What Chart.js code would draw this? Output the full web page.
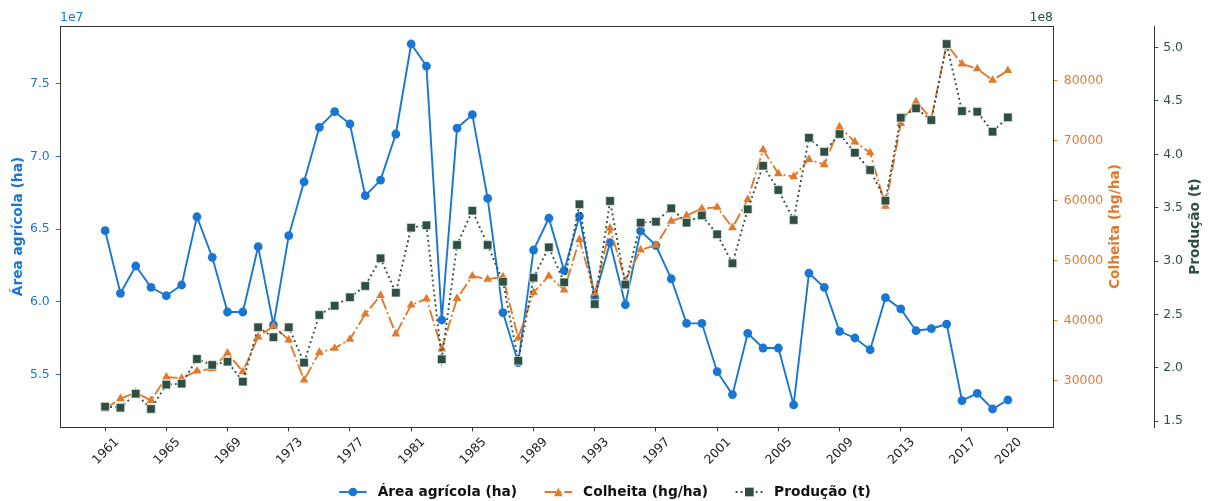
<!DOCTYPE html>
<html lang="pt">
<head>
<meta charset="utf-8">
<title>Área agrícola, colheita e produção</title>
<script src="https://cdn.jsdelivr.net/npm/chart.js@4.4.1/dist/chart.umd.min.js"></script>
<style>
  html, body { margin: 0; padding: 0; background: #fff; }
  #chart { display: block; }
</style>
</head>
<body>
<canvas id="chart" width="1212" height="501"></canvas>
<script>
// Series, one value per year 1961-2020
const years = [
  1961, 1962, 1963, 1964, 1965, 1966, 1967, 1968, 1969, 1970,
  1971, 1972, 1973, 1974, 1975, 1976, 1977, 1978, 1979, 1980,
  1981, 1982, 1983, 1984, 1985, 1986, 1987, 1988, 1989, 1990,
  1991, 1992, 1993, 1994, 1995, 1996, 1997, 1998, 1999, 2000,
  2001, 2002, 2003, 2004, 2005, 2006, 2007, 2008, 2009, 2010,
  2011, 2012, 2013, 2014, 2015, 2016, 2017, 2018, 2019, 2020
];

const areaHa = [
  6.489e7, 6.058e7, 6.246e7, 6.099e7, 6.041e7, 6.115e7, 6.585e7, 6.306e7, 5.929e7, 5.929e7,
  6.379e7, 5.840e7, 6.455e7, 6.826e7, 7.201e7, 7.309e7, 7.224e7, 6.730e7, 6.838e7, 7.155e7,
  7.775e7, 7.623e7, 5.874e7, 7.196e7, 7.288e7, 6.712e7, 5.925e7, 5.580e7, 6.356e7, 6.575e7,
  6.214e7, 6.590e7, 6.034e7, 6.406e7, 5.979e7, 6.488e7, 6.387e7, 6.158e7, 5.851e7, 5.851e7,
  5.518e7, 5.360e7, 5.782e7, 5.681e7, 5.681e7, 5.289e7, 6.196e7, 6.099e7, 5.796e7, 5.750e7,
  5.669e7, 6.028e7, 5.950e7, 5.800e7, 5.814e7, 5.846e7, 5.318e7, 5.369e7, 5.261e7, 5.323e7
];

const colheitaHgHa = [
  25300, 27000, 28000, 26700, 30600, 30400, 31600, 32000, 34600, 31500,
  37300, 39100, 36800, 30100, 34700, 35400, 36900, 41100, 44200, 37800,
  42600, 43650, 35300, 43700, 47450, 46900, 47300, 37100, 44700, 47450,
  45100, 53500, 44500, 55400, 46700, 51800, 52600, 56600, 57500, 58700,
  58900, 55500, 60200, 68500, 64500, 64000, 66900, 66000, 72300, 69800,
  68000, 59100, 72900, 76500, 73700, 86100, 82800, 82000, 80100, 81700
];

const producaoT = [
  1.637e8, 1.627e8, 1.758e8, 1.615e8, 1.843e8, 1.852e8, 2.083e8, 2.027e8, 2.058e8, 1.871e8,
  2.380e8, 2.287e8, 2.380e8, 2.049e8, 2.495e8, 2.582e8, 2.661e8, 2.767e8, 3.026e8, 2.704e8,
  3.313e8, 3.335e8, 2.080e8, 3.151e8, 3.472e8, 3.151e8, 2.807e8, 2.067e8, 2.845e8, 3.129e8,
  2.801e8, 3.532e8, 2.597e8, 3.563e8, 2.780e8, 3.360e8, 3.369e8, 3.494e8, 3.360e8, 3.428e8,
  3.251e8, 2.979e8, 3.485e8, 3.893e8, 3.666e8, 3.385e8, 4.155e8, 4.024e8, 4.190e8, 4.015e8,
  3.853e8, 3.566e8, 4.343e8, 4.431e8, 4.321e8, 5.033e8, 4.405e8, 4.399e8, 4.212e8, 4.346e8
];

// Tick positions
const yearTicks = [1961, 1965, 1969, 1973, 1977, 1981, 1985, 1989, 1993, 1997, 2001, 2005, 2009, 2013, 2017, 2020];
const areaTicks = [5.5e7, 6.0e7, 6.5e7, 7.0e7, 7.5e7];
const colheitaTicks = [30000, 40000, 50000, 60000, 70000, 80000];
const producaoTicks = [1.5e8, 2.0e8, 2.5e8, 3.0e8, 3.5e8, 4.0e8, 4.5e8, 5.0e8];

const BLUE = '#1976D2';
const ORANGE = '#E07B2E';
const GREEN = '#2F4F43';
const SPINE = '#333333';
const FONT = 'DejaVu Sans';
const TICK_FONT = { family: FONT, size: 12.4 };
const TICK_LEN = 4.3;

function toPoints(values) {
  return years.map((yr, i) => ({ x: yr, y: values[i] }));
}

function fixedTicks(list) {
  return function(scale) {
    scale.ticks = list.map(v => ({ value: v }));
  };
}

function yAxis(position, color, ticks, min, max, width, pad, showBorder) {
  return {
    type: 'linear',
    position: position,
    min: min,
    max: max,
    afterBuildTicks: fixedTicks(ticks),
    afterFit: function(scale) { scale.width = width; },
    ticks: { color: color, font: TICK_FONT, padding: pad },
    grid: { drawOnChartArea: false, tickLength: TICK_LEN, tickColor: color, tickWidth: 1 },
    border: { display: showBorder, color: SPINE, width: 1 }
  };
}

// Frame, offset labels, axis titles and the legend below the plot
const decorations = {
  id: 'decorations',
  afterDraw(chart) {
    const { ctx, chartArea: a } = chart;
    ctx.save();

    ctx.strokeStyle = SPINE;
    ctx.lineWidth = 1;
    ctx.setLineDash([]);
    ctx.strokeRect(Math.round(a.left) + 0.5, Math.round(a.top) + 0.5,
      Math.round(a.right - a.left), Math.round(a.bottom - a.top));

    ctx.font = '12.4px "' + FONT + '"';
    ctx.textBaseline = 'middle';
    ctx.fillStyle = BLUE;
    ctx.textAlign = 'left';
    ctx.fillText('1e7', a.left, 17.5);
    ctx.fillStyle = GREEN;
    ctx.textAlign = 'right';
    ctx.fillText('1e8', a.right, 17.5);

    const midY = (a.top + a.bottom) / 2;
    const titles = [
      { text: 'Área agrícola (ha)', x: 18, color: BLUE },
      { text: 'Colheita (hg/ha)', x: 1115, color: ORANGE },
      { text: 'Produção (t)', x: 1195, color: GREEN }
    ];
    ctx.font = 'bold 13.75px "' + FONT + '"';
    ctx.textAlign = 'center';
    titles.forEach(t => {
      ctx.save();
      ctx.translate(t.x, midY);
      ctx.rotate(-Math.PI / 2);
      ctx.fillStyle = t.color;
      ctx.fillText(t.text, 0, 0);
      ctx.restore();
    });

    // legend: line handle with marker, then label
    const handleLen = 27.5, textGap = 11, colGap = 27.5, legendY = 492;
    ctx.font = 'bold 13.75px "' + FONT + '"';
    const items = chart.data.datasets;
    let total = 0;
    items.forEach((ds, i) => {
      total += handleLen + textGap + ctx.measureText(ds.label).width;
      if (i < items.length - 1) total += colGap;
    });
    let x = 605 - total / 2;
    items.forEach(ds => {
      ctx.strokeStyle = ds.borderColor;
      ctx.lineWidth = ds.borderWidth;
      ctx.setLineDash(ds.borderDash || []);
      ctx.beginPath();
      ctx.moveTo(x, legendY);
      ctx.lineTo(x + handleLen, legendY);
      ctx.stroke();
      ctx.setLineDash([]);
      drawMarker(ctx, ds.pointStyle, x + handleLen / 2, legendY, ds.markerSize, ds.pointBackgroundColor);
      x += handleLen + textGap;
      ctx.fillStyle = '#111';
      ctx.textAlign = 'left';
      ctx.fillText(ds.label, x, legendY);
      x += ctx.measureText(ds.label).width + colGap;
    });

    ctx.restore();
  }
};

function drawMarker(ctx, style, x, y, size, fill) {
  const h = size / 2;
  ctx.fillStyle = fill;
  ctx.beginPath();
  if (style === 'circle') {
    ctx.arc(x, y, h, 0, Math.PI * 2);
  } else if (style === 'triangle') {
    ctx.moveTo(x, y - h);
    ctx.lineTo(x + h, y + h);
    ctx.lineTo(x - h, y + h);
    ctx.closePath();
  } else {
    ctx.rect(x - h, y - h, size, size);
  }
  ctx.fill();
}

new Chart(document.getElementById('chart'), {
  type: 'line',
  data: {
    datasets: [{
      label: 'Área agrícola (ha)',
      data: toPoints(areaHa),
      yAxisID: 'y',
      order: 2,
      borderColor: BLUE,
      borderWidth: 1.9,
      pointStyle: 'circle',
      pointRadius: 4.4,
      pointBackgroundColor: BLUE,
      pointBorderWidth: 0,
      markerSize: 8.7,
      tension: 0
    }, {
      label: 'Colheita (hg/ha)',
      data: toPoints(colheitaHgHa),
      yAxisID: 'y1',
      order: 1,
      borderColor: ORANGE,
      borderWidth: 1.9,
      borderDash: [11.9, 3, 1.9, 3],
      pointStyle: 'triangle',
      pointRadius: 5.1,
      pointBackgroundColor: ORANGE,
      pointBorderWidth: 0,
      markerSize: 8.7,
      tension: 0
    }, {
      label: 'Produção (t)',
      data: toPoints(producaoT),
      yAxisID: 'y2',
      order: 0,
      borderColor: GREEN,
      borderWidth: 1.9,
      borderDash: [1.9, 3.1],
      pointStyle: 'rect',
      pointRadius: 6.1,
      pointBackgroundColor: GREEN,
      pointBorderColor: 'rgba(235,245,240,0.9)',
      pointBorderWidth: 0.8,
      markerSize: 8.7,
      tension: 0
    }]
  },
  options: {
    responsive: false,
    animation: false,
    events: [],
    layout: { padding: { top: 26, bottom: 29, left: 0, right: 0 } },
    plugins: {
      legend: { display: false },
      tooltip: { enabled: false }
    },
    scales: {
      x: {
        type: 'linear',
        min: 1958.05,
        max: 2022.95,
        afterBuildTicks: fixedTicks(yearTicks),
        afterFit: function(scale) { scale.height = 45; },
        ticks: {
          color: '#222',
          font: TICK_FONT,
          autoSkip: false,
          minRotation: 45,
          maxRotation: 45,
          padding: 3.5,
          labelOffset: 12,
          callback: v => String(v)
        },
        grid: { drawOnChartArea: false, tickLength: TICK_LEN, tickColor: SPINE, tickWidth: 1 },
        border: { display: false }
      },
      y: Object.assign(yAxis('left', BLUE, areaTicks, 5.137e7, 7.899e7, 60, 6, false), {
        ticks: { color: BLUE, font: TICK_FONT, padding: 6, callback: v => (v / 1e7).toFixed(1) }
      }),
      y1: Object.assign(yAxis('right', ORANGE, colheitaTicks, 22270, 89130, 101, 6.5, false), {
        weight: 0,
        ticks: { color: ORANGE, font: TICK_FONT, padding: 6.5, callback: v => String(v) }
      }),
      y2: Object.assign(yAxis('right', GREEN, producaoTicks, 1.446e8, 5.202e8, 58, 5, true), {
        weight: 1,
        ticks: { color: GREEN, font: TICK_FONT, padding: 5, callback: v => (v / 1e8).toFixed(1) }
      })
    }
  },
  plugins: [decorations]
});
</script>
</body>
</html>
